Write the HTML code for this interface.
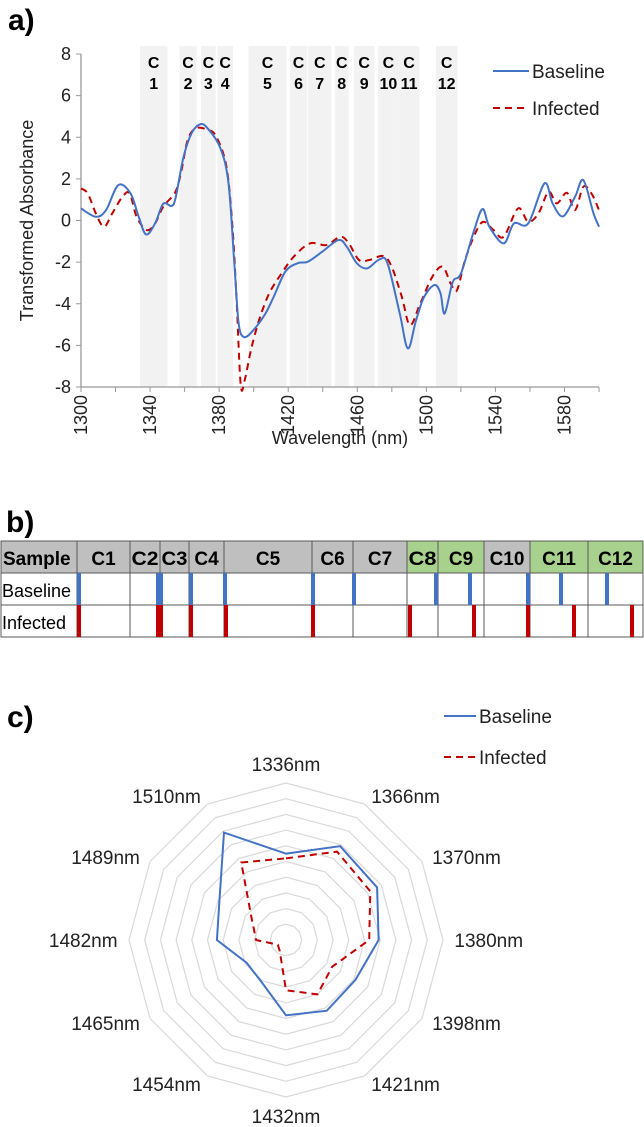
<!DOCTYPE html>
<html><head><meta charset="utf-8"><style>
body{margin:0;background:#fff;font-family:"Liberation Sans",Arial,sans-serif;}
#wrap{position:relative;width:644px;height:1127px;overflow:hidden;}
svg{position:absolute;left:0;top:0;}
</style></head><body>
<div id="wrap">
<svg id="s" width="644" height="1127" xmlns="http://www.w3.org/2000/svg"></svg>
</div>
<script>
// ---------- Panel a data ----------
const bandNames=["C 1","C 2","C 3","C 4","C 5","C 6","C 7","C 8","C 9","C 10","C 11","C 12"];
const bandStart=[1334.2,1357,1369.5,1379,1397,1421,1431.5,1447,1458,1472,1484,1505.5];
const bandEnd=[1350,1367,1378,1388,1419,1431,1445,1455,1470,1484,1496,1518];
const baseNm=[1300,1308.6,1314.5,1321.6,1328.7,1333.4,1337.7,1342.9,1347.6,1352.3,1354.7,1359.4,1364.1,1369.3,1373.6,1380.6,1385.4,1388.9,1391.3,1394.3,1399.5,1406.6,1411.4,1418.4,1425.5,1431.4,1439.7,1449.1,1453.9,1459.8,1465.7,1472.8,1477.5,1484.6,1489.3,1494,1498.7,1504.7,1508.2,1510.6,1515.3,1520,1527.1,1532.5,1536.5,1544.8,1550.7,1559,1568.4,1573.1,1579.1,1586.1,1590.9,1596.8,1600];
const baseVal=[0.58,0.18,0.5,1.7,1.3,0.18,-0.67,-0.14,0.8,0.7,1.06,3.06,4.2,4.63,4.4,3.5,1.8,-2.2,-4.95,-5.6,-5.3,-4.5,-3.7,-2.45,-2.05,-1.98,-1.5,-0.94,-1.26,-2.06,-2.3,-1.87,-2.06,-4.47,-6.15,-4.8,-3.67,-3.1,-3.5,-4.47,-2.95,-2.55,-0.62,0.55,-0.3,-1.1,-0.14,-0.14,1.78,0.82,0.2,1.14,1.94,0.34,-0.3];
const infNm=[1300,1303.9,1308.6,1313.3,1318.1,1324,1328.2,1332.2,1338.1,1342.9,1347.6,1354.7,1358.2,1361.8,1366.5,1373.6,1378.3,1384.2,1387.7,1390.1,1392.5,1394.8,1398.4,1403.1,1409,1416.1,1423.2,1432.6,1442.1,1450.3,1455.1,1461,1466.9,1475.1,1479.9,1485.8,1490.5,1496.4,1503.5,1509.4,1514.1,1517.7,1522.4,1528.3,1533,1538.9,1544.8,1553.1,1559,1564.9,1570.8,1575.5,1581.4,1586.1,1590.9,1595.6,1600];
const infVal=[1.54,1.3,0.34,-0.3,0.34,1.14,1.3,0.18,-0.46,-0.14,0.66,1.38,2.42,3.87,4.43,4.35,4.03,2.6,-0.3,-3.83,-7.9,-7.67,-6.23,-4.79,-3.5,-2.55,-1.74,-1.1,-1.18,-0.78,-1.1,-1.9,-1.9,-1.71,-2.22,-3.67,-5.03,-4.0,-2.7,-2.22,-3.03,-3.35,-1.9,-0.62,-0.06,-0.46,-0.78,0.58,-0.06,0.34,1.38,0.82,1.33,0.5,1.62,1.3,0.5];
const yTicks=[8,6,4,2,0,-2,-4,-6,-8];
const xTickLabels=[1300,1340,1380,1420,1460,1500,1540,1580];
// ---------- Panel b data ----------
const colNames=["Sample","C1","C2","C3","C4","C5","C6","C7","C8","C9","C10","C11","C12"];
const colGreen=[0,0,0,0,0,0,0,0,1,1,0,1,1];
const rowNames=["Baseline","Infected"];
const baseMarks=[79,158,161,191,225,313,354,436,470,528,561,607];
const infMarks=[79,158,161,191,226,313,410,474,528,574,632];
// ---------- Panel c data ----------
const radarLabels=["1336nm","1366nm","1370nm","1380nm","1398nm","1421nm","1432nm","1454nm","1465nm","1482nm","1489nm","1510nm"];
const radarBase=[5.5,6.9,6.7,5.9,5.1,5.2,4.8,3.1,2.9,4.4,4.9,7.9];
const radarInf=[5.2,6.5,6.2,5.3,3.4,4.0,3.2,0.8,0.6,1.9,2.5,5.7];

const NS="http://www.w3.org/2000/svg";
const S=document.getElementById('s');
function mk(tag,attrs,parent){const e=document.createElementNS(NS,tag);for(const k in attrs)e.setAttribute(k,attrs[k]);(parent||S).appendChild(e);return e;}
function txt(str,attrs,parent){const e=mk('text',attrs,parent);e.textContent=str;return e;}

// ----- Panel a -----
const X0=81,PXNM=1.7268,Y0=220.5,PXU=20.8125;
const xs=nm=>X0+(nm-1300)*PXNM;
const ys=v=>Y0-v*PXU;
let t=txt("a)",{x:8,y:30,"font-size":30,"font-weight":"bold"});


for(let i=0;i<bandNames.length;i++){
  const r=mk('rect',{x:xs(bandStart[i]),y:46,width:xs(bandEnd[i])-xs(bandStart[i]),height:ys(-8)-46,fill:"#f2f2f2"});
  
  
  const cx=(xs(bandStart[i])+xs(bandEnd[i]))/2;
  const parts=bandNames[i].split(' ');
  const g=mk('text',{x:cx,y:67,"font-size":16,"font-weight":"bold","text-anchor":"middle"});
  
  
  mk('tspan',{x:cx,y:68},g).textContent=parts[0];
  mk('tspan',{x:cx,y:89},g).textContent=parts[1];
}
let ax=mk('line',{x1:X0,y1:ys(8),x2:X0,y2:ys(-8),stroke:"#999","stroke-width":1.3});

ax=mk('line',{x1:X0,y1:ys(-8),x2:xs(1600),y2:ys(-8),stroke:"#999","stroke-width":1.3});

yTicks.forEach(v=>{
  mk('line',{x1:X0-5,y1:ys(v),x2:X0,y2:ys(v),stroke:"#999"});
  const e=txt(String(v),{x:X0-10,y:ys(v)+6,"font-size":18,"text-anchor":"end",fill:"#222"});
  
});
for(let nm=1300;nm<=1600;nm+=20){mk('line',{x1:xs(nm),y1:ys(-8),x2:xs(nm),y2:ys(-8)+5,stroke:"#999"});}
xTickLabels.forEach(v=>{
  const e=txt(String(v),{x:0,y:0,"font-size":18,"text-anchor":"end",fill:"#222",transform:`translate(${xs(v)+6},${ys(-8)+8}) rotate(-90)`});
  
});
t=txt("Transformed Absorbance",{x:0,y:0,"font-size":18,"text-anchor":"middle",fill:"#222",transform:`translate(33,${ys(0)}) rotate(-90)`});

t=txt("Wavelength (nm)",{x:340,y:444,"font-size":18,"text-anchor":"middle",fill:"#222"});

function smooth(pts){let d=`M${pts[0][0]},${pts[0][1]}`;for(let i=0;i<pts.length-1;i++){const p0=pts[Math.max(0,i-1)],p1=pts[i],p2=pts[i+1],p3=pts[Math.min(pts.length-1,i+2)];d+=`C${p1[0]+(p2[0]-p0[0])/6},${p1[1]+(p2[1]-p0[1])/6} ${p2[0]-(p3[0]-p1[0])/6},${p2[1]-(p3[1]-p1[1])/6} ${p2[0]},${p2[1]}`;}return d;}
let p=mk('path',{d:smooth(infNm.map((n,i)=>[xs(n),ys(infVal[i])])),fill:"none",stroke:"#c00000","stroke-width":2,"stroke-dasharray":"7,5"});

p=mk('path',{d:smooth(baseNm.map((n,i)=>[xs(n),ys(baseVal[i])])),fill:"none",stroke:"#4472c4","stroke-width":2});

let lg=mk('g',{});
mk('line',{x1:493,y1:71,x2:529,y2:71,stroke:"#4472c4","stroke-width":2},lg);
txt("Baseline",{x:532,y:78,"font-size":19,fill:"#222"},lg);
mk('line',{x1:493,y1:108,x2:529,y2:108,stroke:"#c00000","stroke-width":2,"stroke-dasharray":"7,5"},lg);
txt("Infected",{x:532,y:115,"font-size":19,fill:"#222"},lg);

// ----- Panel b -----
t=txt("b)",{x:6,y:532,"font-size":30,"font-weight":"bold"});

const colEdges=[1,77,130,160,189,224,312,353,407,438,484,530,588,643];
const T0=541,T1=573,T2=605,T3=637;
const tb=mk('g',{});
for(let i=0;i<colNames.length;i++){
  const x=colEdges[i],w=colEdges[i+1]-colEdges[i];
  const c=mk('rect',{x:x,y:T0,width:w,height:T1-T0,fill:i==0?"#bfbfbf":(colGreen[i]?"#a9d18e":"#bfbfbf"),stroke:"#595959","stroke-width":1},tb);
  
  const e=txt(colNames[i],{x:x+w/2,y:T1-8,"font-size":19,"font-weight":"bold","text-anchor":"middle"},tb);
  if(i==0){e.setAttribute('x',x+2);e.setAttribute('text-anchor','start');}
  if(i==2||i==3||i==8){e.setAttribute('textLength',w-3);e.setAttribute('lengthAdjust','spacingAndGlyphs');}
  mk('rect',{x:x,y:T1,width:w,height:T2-T1,fill:"#fff",stroke:"#595959","stroke-width":1},tb);
  mk('rect',{x:x,y:T2,width:w,height:T3-T2,fill:"#fff",stroke:"#595959","stroke-width":1},tb);
}
txt("Baseline",{x:2,y:T2-8,"font-size":18},tb);
txt("Infected",{x:2,y:T3-8,"font-size":18},tb);
baseMarks.forEach(x=>{const m=mk('rect',{x:x-2,y:T1,width:4,height:T2-T1,fill:"#4472c4"});});
infMarks.forEach(x=>{const m=mk('rect',{x:x-2,y:T2,width:4,height:T3-T2,fill:"#c00000"});});

// ----- Panel c -----
t=txt("c)",{x:7,y:727,"font-size":30,"font-weight":"bold"});

const CX=286,CY=940,R=157,N=radarLabels.length,MAXV=10;
const pt=(i,v)=>{const a=i*2*Math.PI/N;return [CX+Math.sin(a)*v/MAXV*R,CY-Math.cos(a)*v/MAXV*R];};
for(let k=1;k<=10;k++){
  const pts=radarLabels.map((_,i)=>pt(i,k).join(',')).join(' ');
  const g=mk('polygon',{points:pts,fill:"none",stroke:"#d9d9d9","stroke-width":1.2});
  
}
radarLabels.forEach((l,i)=>{
  const a=i*2*Math.PI/N,s=Math.sin(a),c=Math.cos(a);
  let anchor='middle',x,y;
  if(Math.abs(s)<0.01){[x,y]=pt(i,11.2);y+=7;}
  else{const r=10.6;x=CX+s*r/MAXV*R+(s>0?2:-2);y=CY-c*r/MAXV*R+7;anchor=s>0?'start':'end';}
  const e=txt(l,{x:x,y:y,"font-size":19,"text-anchor":anchor,fill:"#222"});
  
});
p=mk('polygon',{points:radarInf.map((v,i)=>pt(i,v).join(',')).join(' '),fill:"none",stroke:"#c00000","stroke-width":2,"stroke-dasharray":"7,5"});

p=mk('polygon',{points:radarBase.map((v,i)=>pt(i,v).join(',')).join(' '),fill:"none",stroke:"#4472c4","stroke-width":2});

lg=mk('g',{});
mk('line',{x1:444,y1:716,x2:476,y2:716,stroke:"#4472c4","stroke-width":2},lg);
txt("Baseline",{x:479,y:723,"font-size":19,fill:"#222"},lg);
mk('line',{x1:444,y1:757,x2:476,y2:757,stroke:"#c00000","stroke-width":2,"stroke-dasharray":"7,5"},lg);
txt("Infected",{x:479,y:764,"font-size":19,fill:"#222"},lg);
</script>
</body></html>
